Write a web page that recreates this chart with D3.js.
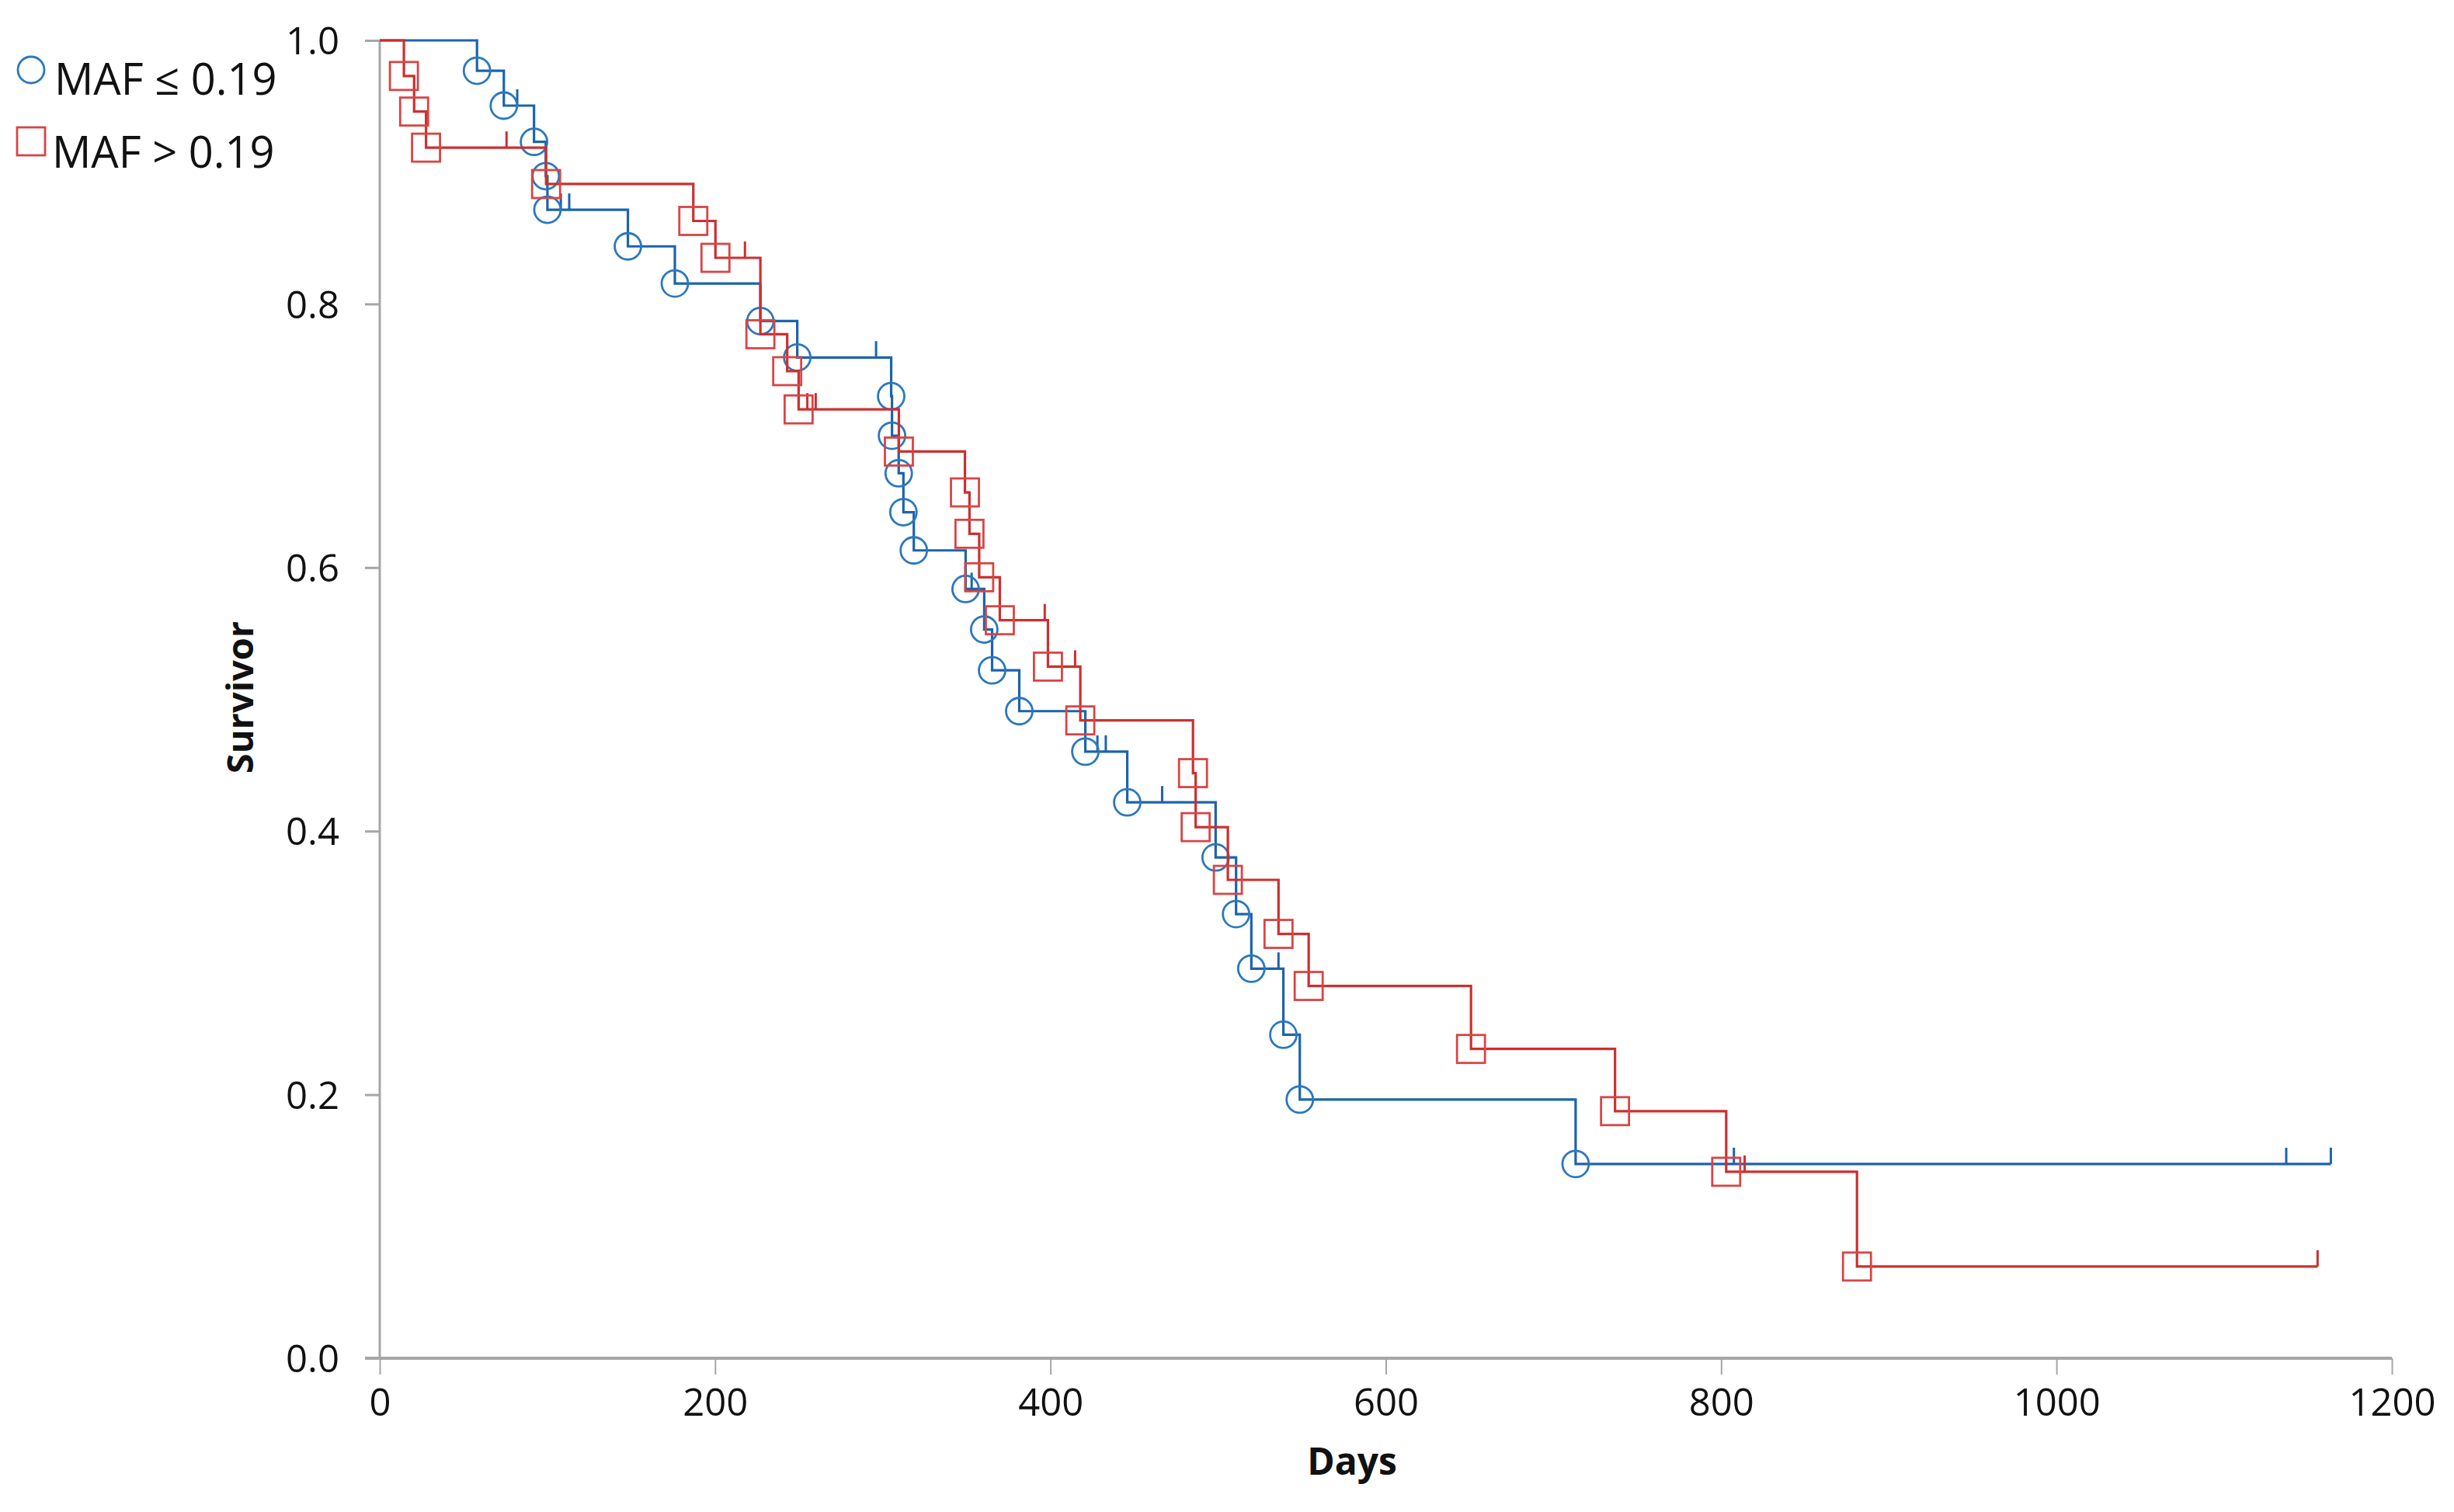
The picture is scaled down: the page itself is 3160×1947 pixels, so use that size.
<!DOCTYPE html>
<html><head><meta charset="utf-8">
<script src="https://cdn.jsdelivr.net/npm/d3@7"></script>
<style>body{margin:0;background:#fff}</style>
</head><body>
<svg id="chart" width="3160" height="1947"></svg>
<script>
// ---- data ----
const seriesNames = ["MAF \u2264 0.19", "MAF > 0.19"];
const xTickValues = [0, 200, 400, 600, 800, 1000, 1200];
const yTickValues = [0, 0.2, 0.4, 0.6, 0.8, 1.0];
const xLabel = "Days";
const yLabel = "Survivor";

// MAF <= 0.19 : event days and survival after each event
const lowTimes = [58, 74, 92, 99, 100, 148, 176, 227, 249, 305, 305.5, 309.5, 312.3, 318.5, 349.4, 360.5, 365.2, 381.4, 420.8, 445.8, 498.5, 510.7, 519.8, 538.9, 548.7, 713.2];
const lowSurv  = [0.977, 0.9505, 0.923, 0.897, 0.8715, 0.8437, 0.8155, 0.787, 0.7594, 0.730, 0.700, 0.6715, 0.642, 0.613, 0.5837, 0.553, 0.522, 0.491, 0.4603, 0.4218, 0.380, 0.337, 0.2956, 0.2455, 0.1963, 0.1474];
const lowCensor = [82, 108, 113, 296, 353, 428, 433, 466.6, 536, 807.6, 1137, 1163.6];

// MAF > 0.19
const highTimes = [14.4, 20.5, 27.6, 99.2, 187, 200.2, 227, 243, 249.8, 309.6, 349, 351.7, 357.5, 369.8, 398.5, 417.8, 485, 486.6, 505.8, 536, 554, 650.8, 736.7, 803, 881];
const highSurv  = [0.973, 0.946, 0.9186, 0.891, 0.863, 0.835, 0.777, 0.749, 0.720, 0.688, 0.657, 0.6256, 0.5926, 0.560, 0.5248, 0.484, 0.444, 0.403, 0.363, 0.322, 0.2825, 0.2347, 0.1875, 0.1415, 0.0696];
const highCensor = [75.6, 217.8, 255, 260, 396.6, 414.7, 814, 1155.7];

// ---- layout ----
const svg = d3.select("#chart");
const x = d3.scaleLinear().domain([0, 1200]).range([489, 3080]);
const y = d3.scaleLinear().domain([0, 1]).range([1749, 52]);
const FONT = "'Open Sans', 'Liberation Sans', sans-serif";
const axisColor = "#a6a6a6";

// axes
const yAxis = svg.append("g").attr("transform", `translate(${x(0)},0)`)
  .call(d3.axisLeft(y).tickValues(yTickValues).tickSize(19).tickFormat(d3.format(".1f")));
yAxis.select(".domain").attr("stroke", axisColor).attr("stroke-width", 3).attr("d", `M0,${y(1)}V${y(0)}`);
yAxis.selectAll(".tick line").attr("stroke", axisColor).attr("stroke-width", 3);
yAxis.selectAll(".tick text").attr("x", -52).attr("dy", "0.36em")
  .attr("font-family", FONT).attr("font-size", 49).attr("fill", "#111");

const xAxis = svg.append("g").attr("transform", `translate(0,${y(0)})`)
  .call(d3.axisBottom(x).tickValues(xTickValues).tickSize(21).tickFormat(d3.format("d")));
xAxis.select(".domain").attr("stroke", axisColor).attr("stroke-width", 4).attr("d", `M${x(0) - 19},0H${x(1200)}`);
xAxis.selectAll(".tick line").attr("stroke", axisColor).attr("stroke-width", 2);
xAxis.selectAll(".tick text").attr("y", 74).attr("dy", 0)
  .attr("font-family", FONT).attr("font-size", 49).attr("fill", "#111");

// axis titles
svg.append("text").attr("x", 1741).attr("y", 1899).attr("text-anchor", "middle")
  .attr("font-family", FONT).attr("font-weight", "bold").attr("font-size", 48).attr("fill", "#111").text(xLabel);
svg.append("text").attr("transform", "translate(326,898) rotate(-90)").attr("text-anchor", "middle")
  .attr("font-family", FONT).attr("font-weight", "bold").attr("font-size", 47).attr("fill", "#111").text(yLabel);

// ---- curves ----
function drawSeries(times, surv, censor, lineColor, markColor, shape) {
  const endT = d3.max(censor);
  const pts = [[0, 1]].concat(times.map((t, i) => [t, surv[i]]));
  const lastS = surv[surv.length - 1];
  pts.push([endT, lastS]);
  const line = d3.line().x(d => x(d[0])).y(d => y(d[1])).curve(d3.curveStepAfter);
  const g = svg.append("g");
  g.append("path").attr("d", line(pts)).attr("fill", "none")
    .attr("stroke", lineColor).attr("stroke-width", 3.2);
  const stepAt = t => { let s = 1; times.forEach((tt, i) => { if (tt <= t) s = surv[i]; }); return s; };
  g.selectAll(".cens").data(censor).join("line")
    .attr("x1", d => x(d)).attr("x2", d => x(d))
    .attr("y1", d => y(stepAt(d))).attr("y2", d => y(stepAt(d)) - 21)
    .attr("stroke", lineColor).attr("stroke-width", 3);
  const ev = times.map((t, i) => [t, surv[i]]);
  if (shape === "circle") {
    g.selectAll(".m").data(ev).join("circle")
      .attr("cx", d => x(d[0])).attr("cy", d => y(d[1])).attr("r", 17)
      .attr("fill", "none").attr("stroke", markColor).attr("stroke-width", 2.8);
  } else {
    g.selectAll(".m").data(ev).join("rect")
      .attr("x", d => x(d[0]) - 18).attr("y", d => y(d[1]) - 18).attr("width", 36).attr("height", 36)
      .attr("fill", "none").attr("stroke", markColor).attr("stroke-width", 2.8);
  }
}
const blueLine = "#1d64aa", blueMark = "#2c78be";
const redLine = "#cc3030", redMark = "#d84545";
drawSeries(lowTimes, lowSurv, lowCensor, blueLine, blueMark, "circle");
drawSeries(highTimes, highSurv, highCensor, redLine, redMark, "square");

// ---- legend ----
const leg = svg.append("g");
leg.append("circle").attr("cx", 40).attr("cy", 90).attr("r", 17)
  .attr("fill", "none").attr("stroke", blueMark).attr("stroke-width", 2.8);
leg.append("text").attr("x", 70).attr("y", 122).attr("font-family", FONT).attr("font-size", 56)
  .attr("fill", "#111").text(seriesNames[0]);
leg.append("rect").attr("x", 22).attr("y", 164).attr("width", 36).attr("height", 36)
  .attr("fill", "none").attr("stroke", redMark).attr("stroke-width", 2.8);
leg.append("text").attr("x", 67).attr("y", 216).attr("font-family", FONT).attr("font-size", 56)
  .attr("fill", "#111").text(seriesNames[1]);
</script>
</body></html>
